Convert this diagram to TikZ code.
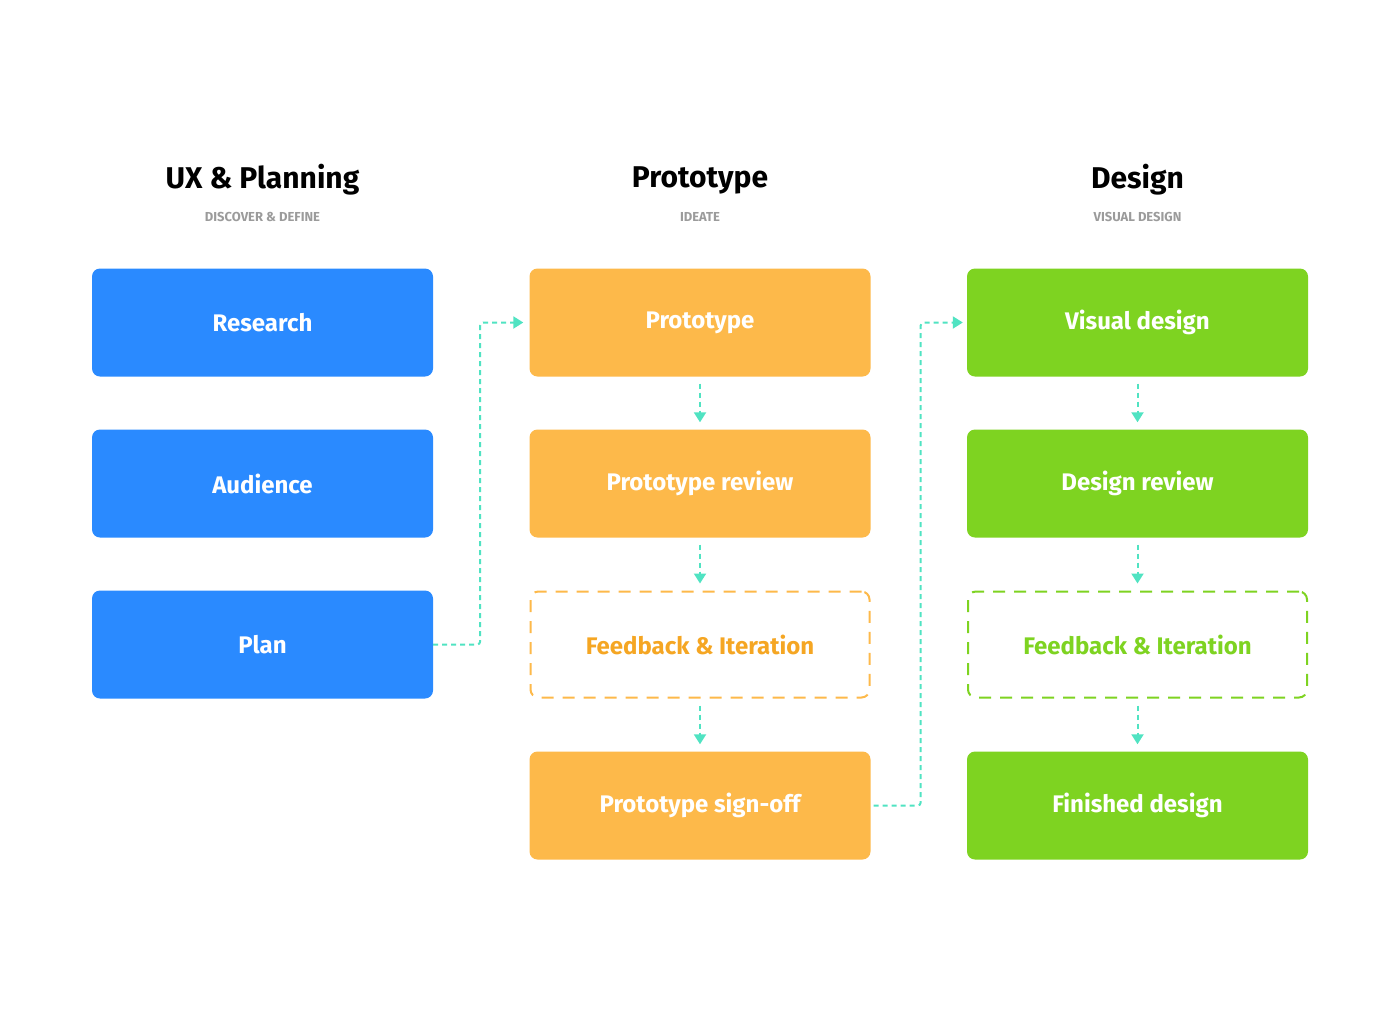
\documentclass[tikz,border=0pt]{standalone}
\usepackage{fontspec}
\setmainfont{Fira Sans}
\usetikzlibrary{arrows.meta}
\definecolor{uxblue}{HTML}{2A8AFF}
\definecolor{protoorange}{HTML}{FDB94A}
\definecolor{feedorange}{HTML}{F5A623}
\definecolor{designgreen}{HTML}{7ED321}
\definecolor{flowteal}{HTML}{50E3C2}
\definecolor{subgrey}{HTML}{9B9B9B}

\tikzset{%
  every step/.style={
    rectangle,
    rounded corners=8pt,
    minimum width=341pt,
    minimum height=108pt,
    text=white,
    font=\fontsize{24}{28}\selectfont\bfseries
  },
  step ux/.style={fill=uxblue},
  step proto/.style={fill=protoorange},
  step design/.style={fill=designgreen},
  step feedproto/.style={draw=protoorange, line width=2pt, dash pattern=on 12pt off 9pt,
    text=feedorange, minimum width=339pt, minimum height=106pt},
  step feeddesign/.style={draw=designgreen, line width=2pt, dash pattern=on 12pt off 9pt,
    text=designgreen, minimum width=339pt, minimum height=106pt},
  flow/.style={
    draw=flowteal, line width=2pt, dash pattern=on 5pt off 4pt,
    -{Triangle[length=10pt,width=12pt]}, rounded corners=3pt
  },
}

\begin{document}
\begin{tikzpicture}[x=1pt, y=-1pt]
\useasboundingbox (0,0) rectangle (1400,1018);

\foreach \t/\s/\x in {UX \& Planning/DISCOVER \& DEFINE/262.5, Prototype/IDEATE/700, Design/VISUAL DESIGN/1137.5}
{
  \node [font=\fontsize{30}{34}\selectfont\bfseries] at (\x,180) {\t};
  \node [font=\fontsize{13}{15}\selectfont\bfseries, text=subgrey] at (\x,217) {\s};
}

\foreach \m/\l [count=\y] in {ux/Research, ux/Audience, ux/Plan}
  \node [every step/.try, step \m/.try] (ux-\y) at (262.5,161*\y+161.5) {\l};

\foreach \m/\l [count=\y] in {proto/Prototype, proto/Prototype review, feedproto/Feedback \& Iteration, proto/Prototype sign-off}
  \node [every step/.try, step \m/.try] (proto-\y) at (700,161*\y+161.5) {\l};

\foreach \m/\l [count=\y] in {design/Visual design, design/Design review, feeddesign/Feedback \& Iteration, design/Finished design}
  \node [every step/.try, step \m/.try] (design-\y) at (1137.5,161*\y+161.5) {\l};

\foreach \i [evaluate=\i as \j using int(\i+1)] in {1,2,3}
{
  \draw [flow] ([yshift=-7pt]proto-\i.south) -- ([yshift=7pt]proto-\j.north);
  \draw [flow] ([yshift=-7pt]design-\i.south) -- ([yshift=7pt]design-\j.north);
}

\draw [flow] (ux-3.east) -- ++(47,0) |- ([xshift=-6pt]proto-1.west);
\draw [flow] ([xshift=3pt]proto-4.east) -- ++(47,0) |- ([xshift=-4pt]design-1.west);

\end{tikzpicture}
\end{document}
